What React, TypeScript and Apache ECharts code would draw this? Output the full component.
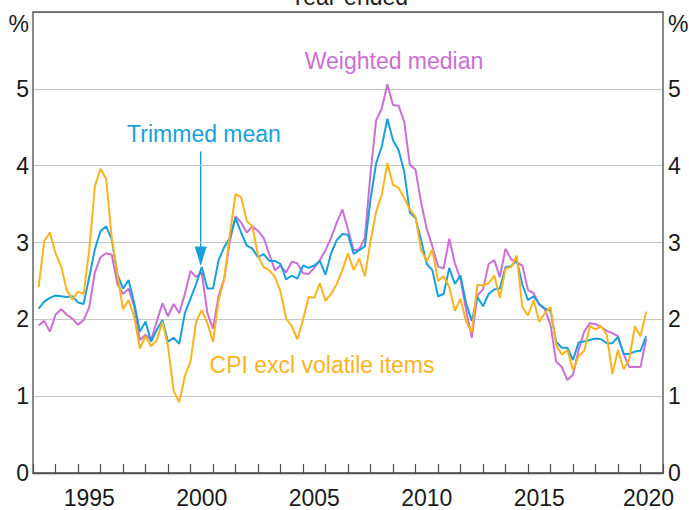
import React, { useEffect, useRef } from 'react';
import * as echarts from 'echarts';

// Year-ended underlying inflation, quarterly, first observation March quarter 1993
const firstYear = 1993;

const trimmedMean = [
  2.14, 2.23, 2.28, 2.31, 2.30, 2.29, 2.30, 2.22, 2.20, 2.55,
  2.91, 3.15, 3.21, 3.04, 2.59, 2.40, 2.51, 2.21, 1.84, 1.97,
  1.71, 1.86, 1.99, 1.71, 1.76, 1.68, 2.08, 2.27, 2.46, 2.68,
  2.40, 2.40, 2.77, 2.94, 3.06, 3.32, 3.13, 2.96, 2.92, 2.81,
  2.85, 2.76, 2.76, 2.72, 2.52, 2.57, 2.53, 2.70, 2.67, 2.70,
  2.76, 2.58, 2.86, 3.03, 3.11, 3.10, 2.85, 2.90, 2.95, 3.56,
  4.03, 4.25, 4.61, 4.33, 4.20, 3.92, 3.39, 3.32, 3.03, 2.72,
  2.64, 2.30, 2.33, 2.67, 2.46, 2.57, 2.21, 1.98, 2.29, 2.17,
  2.33, 2.39, 2.40, 2.68, 2.69, 2.77, 2.45, 2.25, 2.30, 2.20,
  2.14, 2.11, 1.71, 1.63, 1.63, 1.47, 1.70, 1.71, 1.73, 1.75,
  1.74, 1.69, 1.69, 1.77, 1.55, 1.55, 1.58, 1.59, 1.78,
];

const weightedMedian = [
  1.92, 1.98, 1.84, 2.06, 2.13, 2.06, 2.01, 1.93, 1.99, 2.16,
  2.61, 2.81, 2.86, 2.84, 2.46, 2.33, 2.40, 2.16, 1.73, 1.80,
  1.73, 1.97, 2.21, 2.04, 2.20, 2.08, 2.33, 2.63, 2.55, 2.61,
  2.08, 1.88, 2.31, 2.53, 3.02, 3.34, 3.26, 3.13, 3.21, 3.15,
  3.06, 2.85, 2.64, 2.70, 2.61, 2.75, 2.73, 2.60, 2.59, 2.67,
  2.77, 2.90, 3.06, 3.26, 3.43, 3.17, 2.90, 2.91, 3.06, 3.90,
  4.59, 4.74, 5.06, 4.79, 4.78, 4.57, 4.01, 3.95, 3.52, 3.18,
  2.95, 2.69, 2.66, 3.05, 2.73, 2.52, 2.12, 1.76, 2.31, 2.39,
  2.72, 2.77, 2.55, 2.92, 2.78, 2.74, 2.70, 2.38, 2.34, 2.19,
  2.13, 1.93, 1.45, 1.38, 1.21, 1.28, 1.60, 1.84, 1.95, 1.94,
  1.90, 1.85, 1.82, 1.78, 1.55, 1.38, 1.38, 1.38, 1.74,
];

const cpiExclVolatile = [
  2.42, 3.02, 3.13, 2.86, 2.69, 2.38, 2.26, 2.36, 2.33, 2.90,
  3.73, 3.96, 3.83, 3.06, 2.59, 2.13, 2.25, 2.03, 1.62, 1.78,
  1.65, 1.73, 1.97, 1.65, 1.07, 0.92, 1.26, 1.45, 1.97, 2.12,
  1.95, 1.71, 2.25, 2.53, 3.11, 3.63, 3.59, 3.28, 3.21, 2.83,
  2.68, 2.64, 2.55, 2.36, 2.01, 1.91, 1.74, 1.99, 2.29, 2.28,
  2.47, 2.24, 2.33, 2.46, 2.64, 2.86, 2.64, 2.79, 2.56, 3.02,
  3.40, 3.62, 4.03, 3.75, 3.71, 3.58, 3.43, 3.33, 2.90, 2.76,
  2.91, 2.50, 2.56, 2.42, 2.11, 2.27, 1.97, 1.83, 2.45, 2.44,
  2.47, 2.57, 2.28, 2.66, 2.68, 2.83, 2.16, 2.05, 2.25, 1.97,
  2.08, 2.16, 1.67, 1.54, 1.60, 1.34, 1.52, 1.59, 1.91, 1.87,
  1.91, 1.80, 1.29, 1.60, 1.35, 1.48, 1.91, 1.78, 2.10,
];

const yearLabels = [1995, 2000, 2005, 2010, 2015, 2020];
const xMin = 1993;
const xMax = 2021;
const yMin = 0;
const yMax = 6;

const FONT = '"Liberation Sans", Arial, Helvetica, sans-serif';
const FS = 23;
const TEXT = '#1a1a1a';
const BLUE = '#17a0dc';
const PURPLE = '#cc6fd5';
const ORANGE = '#fdb31c';

const toPoints = (vals: number[]) => vals.map((v, i) => [firstYear + (i + 1) / 4, v]);

const yLabelFmt = (v: number) => (v === yMax ? '' : String(v));

export default function App() {
  const ref = useRef<HTMLDivElement>(null);
  useEffect(() => {
    const chart = echarts.init(ref.current!, undefined, { renderer: 'svg' });
    const option: any = {
      animation: false,
      backgroundColor: '#ffffff',
      textStyle: { fontFamily: FONT },
      grid: {
        left: 33,
        right: 26,
        top: 12,
        bottom: 33,
        show: true,
        z: 5,
        borderColor: '#4d4d4d',
        borderWidth: 1.3,
        backgroundColor: 'transparent',
      },
      xAxis: [
        {
          type: 'value',
          min: xMin,
          max: xMax,
          interval: 1,
          position: 'bottom',
          axisLine: { show: true, lineStyle: { color: '#4d4d4d', width: 1.3 } },
          axisTick: { show: true, inside: true, length: 9, lineStyle: { color: '#4d4d4d', width: 1.2 } },
          axisLabel: { show: false },
          splitLine: { show: false },
        },
        {
          type: 'value',
          min: xMin - 0.5,
          max: xMax - 0.5,
          interval: 0.5,
          position: 'bottom',
          axisLine: { show: false },
          axisTick: { show: false },
          splitLine: { show: false },
          axisLabel: {
            show: true,
            margin: 13,
            fontSize: FS,
            lineHeight: 24,
            fontFamily: FONT,
            color: TEXT,
            showMinLabel: true,
            showMaxLabel: true,
            formatter: (v: number) => {
              const r = Math.round(v);
              if (Math.abs(v - r) > 1e-6 || !yearLabels.includes(r)) return '';
              return r === yearLabels[yearLabels.length - 1] ? r + '\u00a0' : String(r);
            },
          },
        },
      ],
      yAxis: [
        {
          type: 'value',
          position: 'left',
          min: yMin,
          max: yMax,
          interval: 1,
          axisLine: { show: false },
          axisTick: { show: false },
          axisLabel: { margin: 4, fontSize: FS, fontFamily: FONT, color: TEXT, formatter: yLabelFmt },
          splitLine: { show: true, lineStyle: { color: '#c6c6c6', width: 1.2 } },
        },
        {
          type: 'value',
          position: 'right',
          min: yMin,
          max: yMax,
          interval: 1,
          axisLine: { show: false },
          axisTick: { show: false },
          axisLabel: { margin: 5, fontSize: FS, fontFamily: FONT, color: TEXT, formatter: yLabelFmt },
          splitLine: { show: false },
        },
      ],
      series: [
        {
          name: 'Weighted median',
          type: 'line',
          data: toPoints(weightedMedian),
          showSymbol: false,
          symbol: 'none',
          lineStyle: { color: PURPLE, width: 2 },
          itemStyle: { color: PURPLE },
          z: 2,
        },
        {
          name: 'Trimmed mean',
          type: 'line',
          data: toPoints(trimmedMean),
          showSymbol: false,
          symbol: 'none',
          lineStyle: { color: BLUE, width: 2 },
          itemStyle: { color: BLUE },
          z: 3,
        },
        {
          name: 'CPI excl volatile items',
          type: 'line',
          data: toPoints(cpiExclVolatile),
          showSymbol: false,
          symbol: 'none',
          lineStyle: { color: ORANGE, width: 2 },
          itemStyle: { color: ORANGE },
          z: 4,
        },
      ],
      graphic: [
        {
          type: 'text',
          x: 349,
          y: -3.5,
          style: { text: 'Year-ended', fontSize: FS, fontFamily: FONT, fill: TEXT, align: 'center', verticalAlign: 'middle' },
        },
        {
          type: 'text',
          x: 29,
          y: 23.5,
          style: { text: '%', fontSize: FS, fontFamily: FONT, fill: TEXT, align: 'right', verticalAlign: 'middle' },
        },
        {
          type: 'text',
          x: 668,
          y: 23.5,
          style: { text: '%', fontSize: FS, fontFamily: FONT, fill: TEXT, align: 'left', verticalAlign: 'middle' },
        },
        {
          type: 'text',
          x: 394,
          y: 60.5,
          style: { text: 'Weighted median', fontSize: FS, fontFamily: FONT, fill: PURPLE, align: 'center', verticalAlign: 'middle' },
        },
        {
          type: 'text',
          x: 204,
          y: 133.5,
          style: { text: 'Trimmed mean', fontSize: FS, fontFamily: FONT, fill: BLUE, align: 'center', verticalAlign: 'middle' },
        },
        {
          type: 'text',
          x: 322,
          y: 364.5,
          style: { text: 'CPI excl volatile items', fontSize: FS, fontFamily: FONT, fill: ORANGE, align: 'center', verticalAlign: 'middle' },
        },
        {
          type: 'line',
          shape: { x1: 200.7, y1: 151.5, x2: 200.7, y2: 250 },
          style: { stroke: BLUE, lineWidth: 1.4 },
        },
        {
          type: 'polygon',
          shape: { points: [[194.7, 246.5], [206.7, 246.5], [200.7, 266]] },
          style: { fill: BLUE },
        },
      ],
    };
    chart.setOption(option);
    return () => chart.dispose();
  }, []);
  return (
    <div
      ref={ref}
      style={{ position: 'absolute', left: 0, top: 0, width: 689, height: 510 }}
    />
  );
}
